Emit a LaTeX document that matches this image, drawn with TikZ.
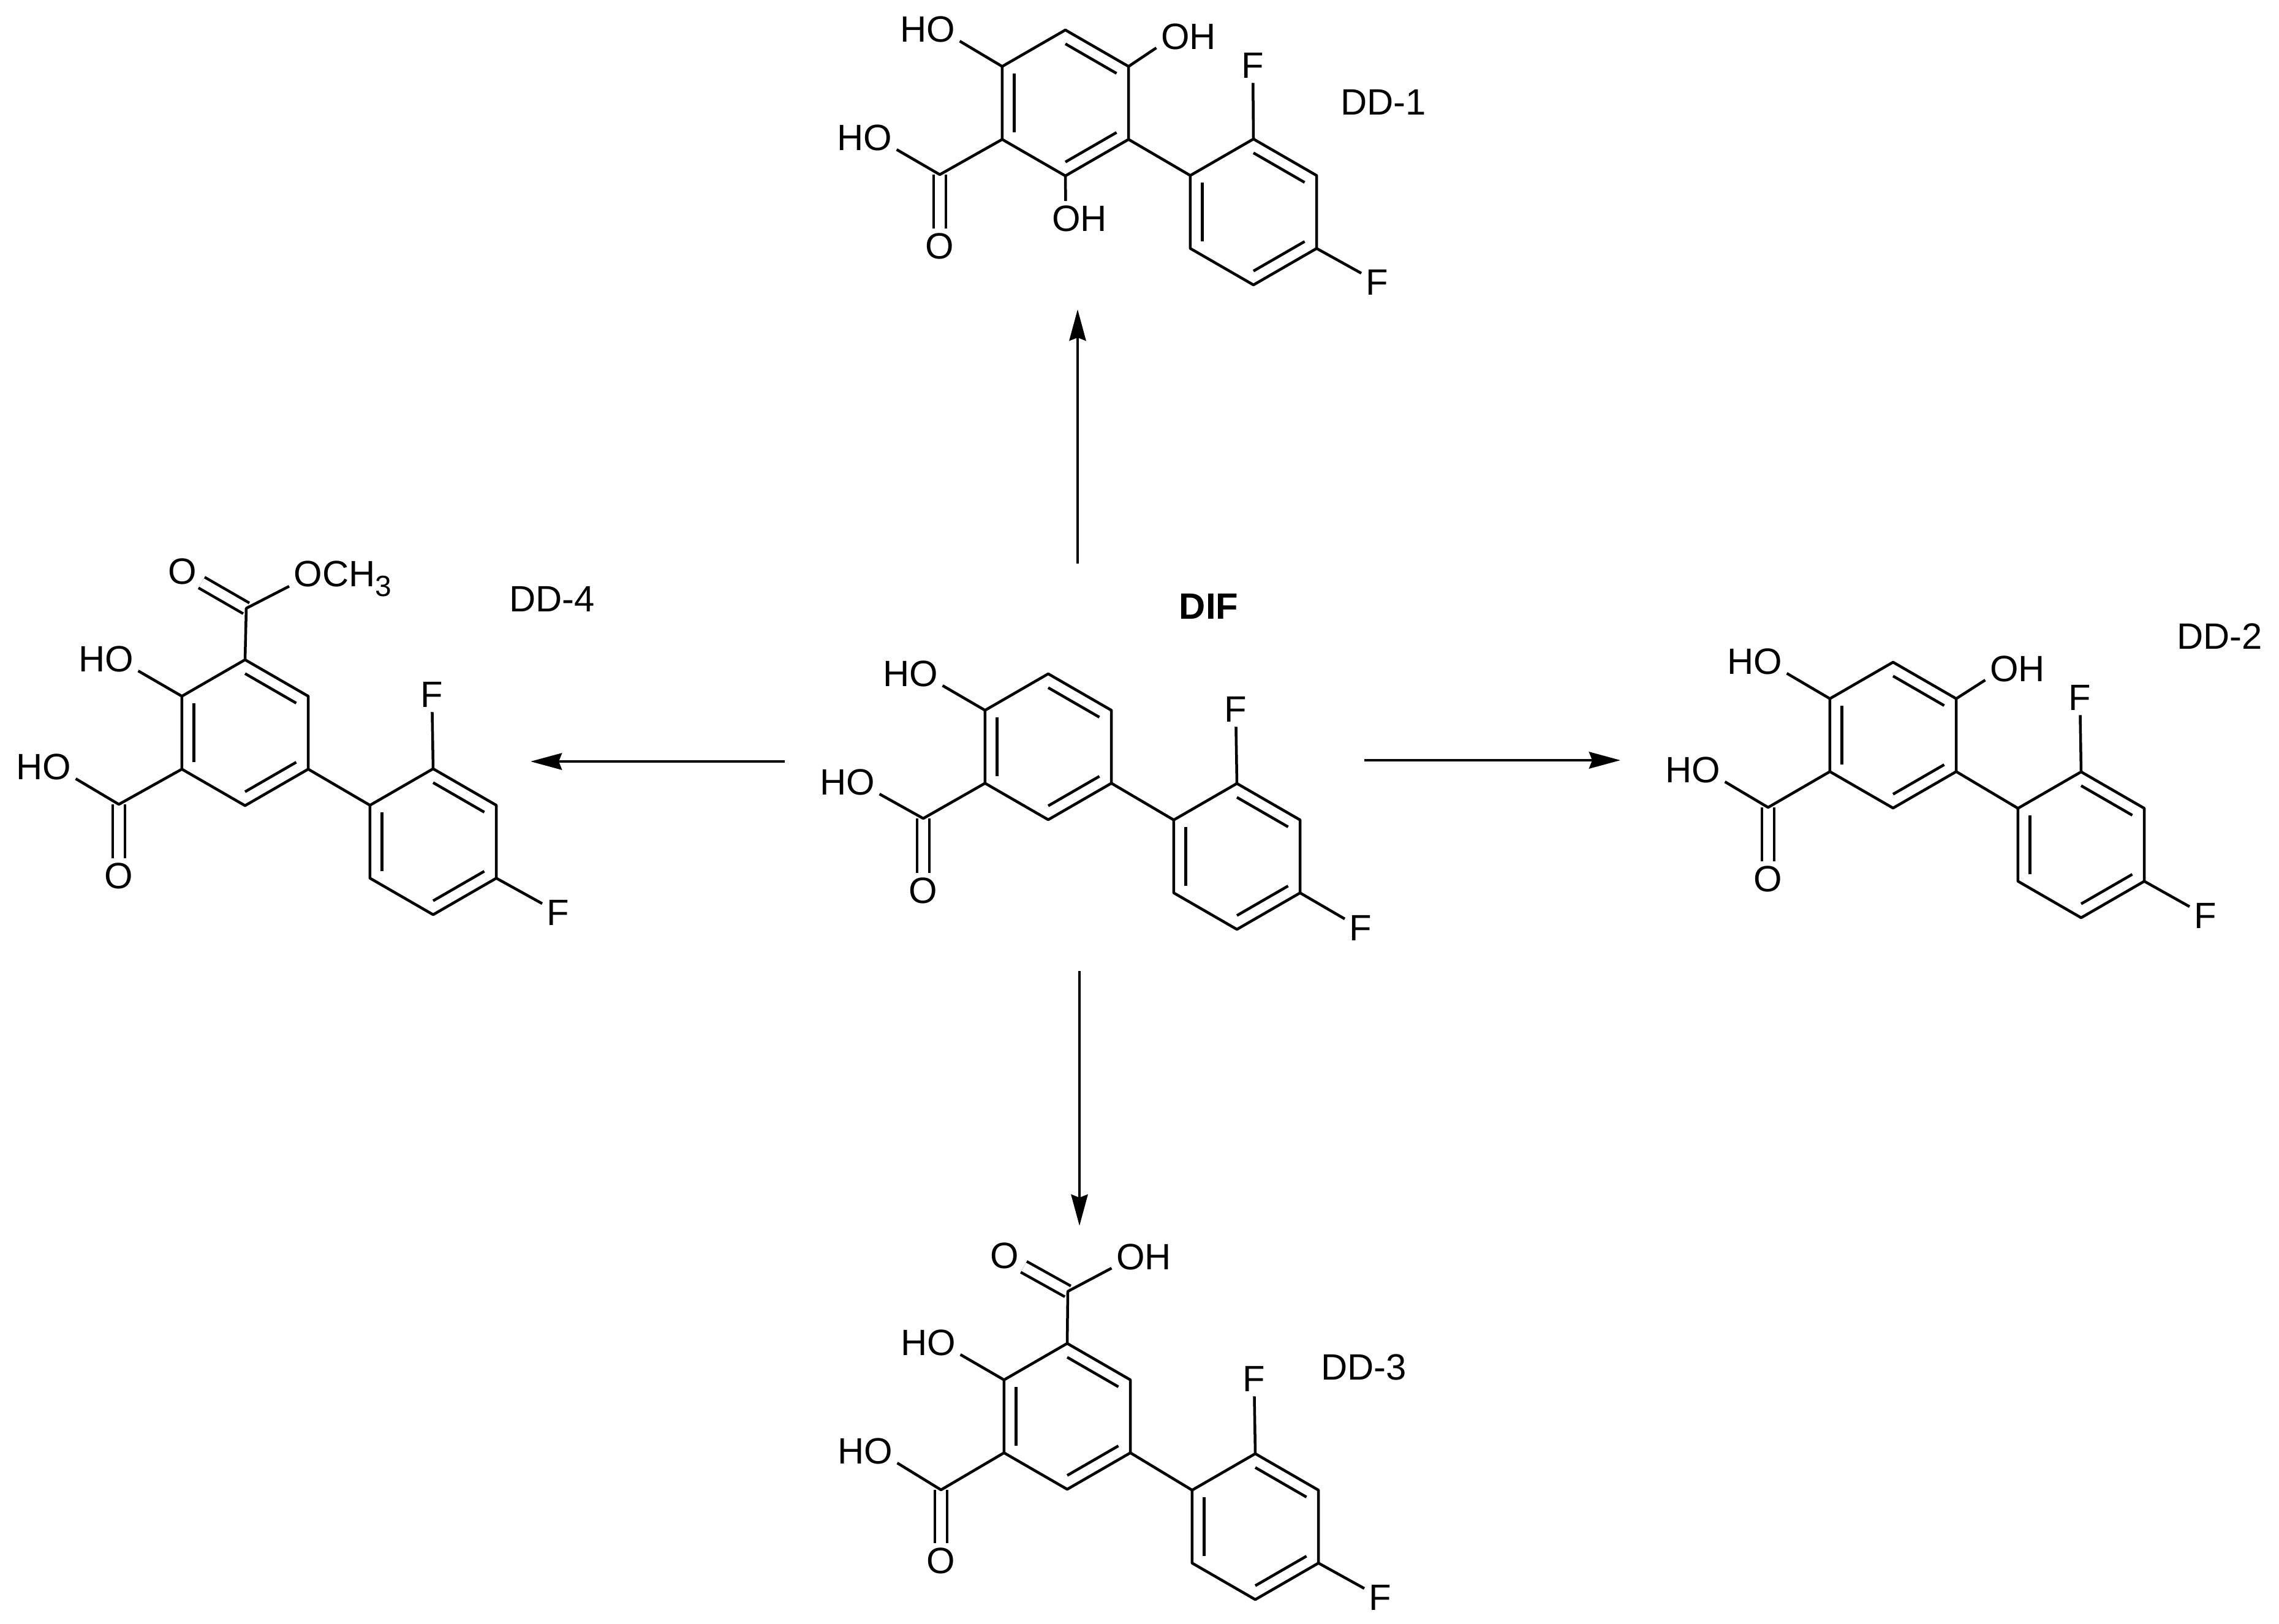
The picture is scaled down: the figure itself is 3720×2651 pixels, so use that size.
\documentclass[tikz,border=0pt]{standalone}
\usepackage{fontspec}
\setmainfont{Liberation Sans}
\usetikzlibrary{calc, %for inner bonds
                arrows.meta}

\newdimen\R
\R=1.19cm

% hexagon around a centre, with its three inner bonds
\newcommand{\ring}[3]{%
    \coordinate (#1) at (#2,#3);
    \foreach \x/\y in {1/90,2/30,3/-30,4/-90,5/-150,6/150}
    \coordinate (#1\x) at ($(#1)+(\y:\R)$);
    \draw[bond] (#11) -- (#12) -- (#13) -- (#14) -- (#15) -- (#16) -- cycle;
    \foreach \x/\y in {6/5,1/2,3/4}
    \draw[bond] ($(#1\x)!0.19!(#1)$) -- ($(#1\y)!0.19!(#1)$);
}

\begin{document}
\begin{tikzpicture}[x=0.01cm, y=-0.01cm,
                    bond/.style={line width=0.045cm, line join=round},
                    dblbond/.style={bond, double, double distance=0.155cm},
                    atom/.style={inner sep=0pt, outer sep=2.2pt, font=\fontsize{17}{19}\selectfont},
                    tag/.style={atom, outer sep=0pt},
                    reaction/.style={-{Stealth[length=0.51cm, width=0.27cm, inset=0.05cm]}, line width=0.048cm}
                    ]
    \useasboundingbox (0,0) rectangle (3720,2651);

    % DIF %
    \ring{Aa}{1711}{1219}
    \ring{Ab}{2019}{1398}
    \coordinate (Ac) at (1507,1336);
    \node[atom] (Ao) at (1507,1454) {O};
    \node[atom] (Ah) at (1383,1277) {HO};
    \node[atom] (Ap) at (1486,1100) {HO};
    \node[atom] (Af) at (2017,1158) {F};
    \node[atom] (Ag) at (2221,1515) {F};
    \node[tag, font=\fontsize{17}{19}\selectfont\bfseries] (Atag) at (1973,990) {DIF};
    \draw[dblbond] (Ac) -- (Ao);
    \draw[bond] (Aa5) -- (Ac) -- (Ah.-20);
    \draw[bond] (Aa6) -- (Ap.-20);
    \draw[bond] (Aa3) -- (Ab6);
    \draw[bond] (Ab1) -- (Af);
    \draw[bond] (Ab3) -- (Ag.150);

    % DD-1 %
    \ring{Ba}{1739}{168}
    \ring{Bb}{2046}{346}
    \coordinate (Bc) at (1534,285);
    \node[atom] (Bo) at (1534,402) {O};
    \node[atom] (Bh) at (1411,225) {HO};
    \node[atom] (Bp) at (1514,48) {HO};
    \node[atom] (Bq) at (1940,60) {OH};
    \node[atom] (Br) at (1762,357) {OH};
    \node[atom] (Bf) at (2045,107) {F};
    \node[atom] (Bg) at (2248,461) {F};
    \node[tag] (Btag) at (2258,167) {DD-1};
    \draw[dblbond] (Bc) -- (Bo);
    \draw[bond] (Ba5) -- (Bc) -- (Bh.-20);
    \draw[bond] (Ba6) -- (Bp.-20);
    \draw[bond] (Ba2) -- (Bq.199);
    \draw[bond] (Ba4) -- (Br.128);
    \draw[bond] (Ba3) -- (Bb6);
    \draw[bond] (Bb1) -- (Bf);
    \draw[bond] (Bb3) -- (Bg.150);

    % DD-2 %
    \ring{Ca}{3090}{1200}
    \ring{Cb}{3397}{1379}
    \coordinate (Cc) at (2886,1318);
    \node[atom] (Co) at (2886,1435) {O};
    \node[atom] (Ch) at (2763,1257) {HO};
    \node[atom] (Cp) at (2864,1080) {HO};
    \node[atom] (Cq) at (3293,1092) {OH};
    \node[atom] (Cf) at (3395,1139) {F};
    \node[atom] (Cg) at (3600,1495) {F};
    \node[tag] (Ctag) at (3623,1039) {DD-2};
    \draw[dblbond] (Cc) -- (Co);
    \draw[bond] (Ca5) -- (Cc) -- (Ch.-20);
    \draw[bond] (Ca6) -- (Cp.-20);
    \draw[bond] (Ca2) -- (Cq.199);
    \draw[bond] (Ca3) -- (Cb6);
    \draw[bond] (Cb1) -- (Cf);
    \draw[bond] (Cb3) -- (Cg.150);

    % DD-3 %
    \ring{Da}{1742}{2312}
    \ring{Db}{2049}{2492}
    \coordinate (Dc) at (1536,2432);
    \coordinate (Dd) at (1743,2108);
    \node[atom] (Do) at (1536,2548) {O};
    \node[atom] (Dh) at (1412,2369) {HO};
    \node[atom] (Dp) at (1515,2192) {HO};
    \node[atom] (Dn) at (1640,2050) {O};
    \node[atom] (Dq) at (1867,2052) {OH};
    \node[atom] (Df) at (2047,2251) {F};
    \node[atom] (Dg) at (2253,2608) {F};
    \node[tag] (Dtag) at (2226,2232) {DD-3};
    \draw[dblbond] (Dc) -- (Do);
    \draw[dblbond] (Dd) -- (Dn.-30);
    \draw[bond] (Da5) -- (Dc) -- (Dh.-20);
    \draw[bond] (Da6) -- (Dp.-20);
    \draw[bond] (Da1) -- (Dd) -- (Dq.199);
    \draw[bond] (Da3) -- (Db6);
    \draw[bond] (Db1) -- (Df);
    \draw[bond] (Db3) -- (Dg.150);

    % DD-4 %
    \ring{Ea}{400}{1196}
    \ring{Eb}{707}{1374}
    \coordinate (Ec) at (194,1313);
    \coordinate (Ed) at (402,993);
    \node[atom] (Eo) at (194,1430) {O};
    \node[atom] (Eh) at (71,1252) {HO};
    \node[atom] (Ep) at (173,1076) {HO};
    \node[atom] (En) at (298,933) {O};
    \node[atom, anchor=base west] (Em) at (472,957) {OCH\raisebox{-0.16cm}{\fontsize{13.6}{14}\selectfont 3}};
    \node[atom] (Ef) at (705,1134) {F};
    \node[atom] (Eg) at (911,1490) {F};
    \node[tag] (Etag) at (901,978) {DD-4};
    \draw[dblbond] (Ec) -- (Eo);
    \draw[dblbond] (Ed) -- (En.-30);
    \draw[bond] (Ea5) -- (Ec) -- (Eh.-20);
    \draw[bond] (Ea6) -- (Ep.-20);
    \draw[bond] (Ea1) -- (Ed) -- (Em.base west);
    \draw[bond] (Ea3) -- (Eb6);
    \draw[bond] (Eb1) -- (Ef);
    \draw[bond] (Eb3) -- (Eg.150);

    % ARROWS %
    \coordinate (Aup) at (1759,920);
    \coordinate (Bin) at (1759,505);
    \coordinate (Art) at (2227,1241);
    \coordinate (Cin) at (2645,1241);
    \coordinate (Adn) at (1762,1585);
    \coordinate (Din) at (1762,2001);
    \coordinate (Alf) at (1281,1243);
    \coordinate (Ein) at (866,1243);
    \foreach \x/\y in {Aup/Bin,Art/Cin,Adn/Din,Alf/Ein}
    \draw[reaction] (\x) -- (\y);
\end{tikzpicture}
\end{document}
